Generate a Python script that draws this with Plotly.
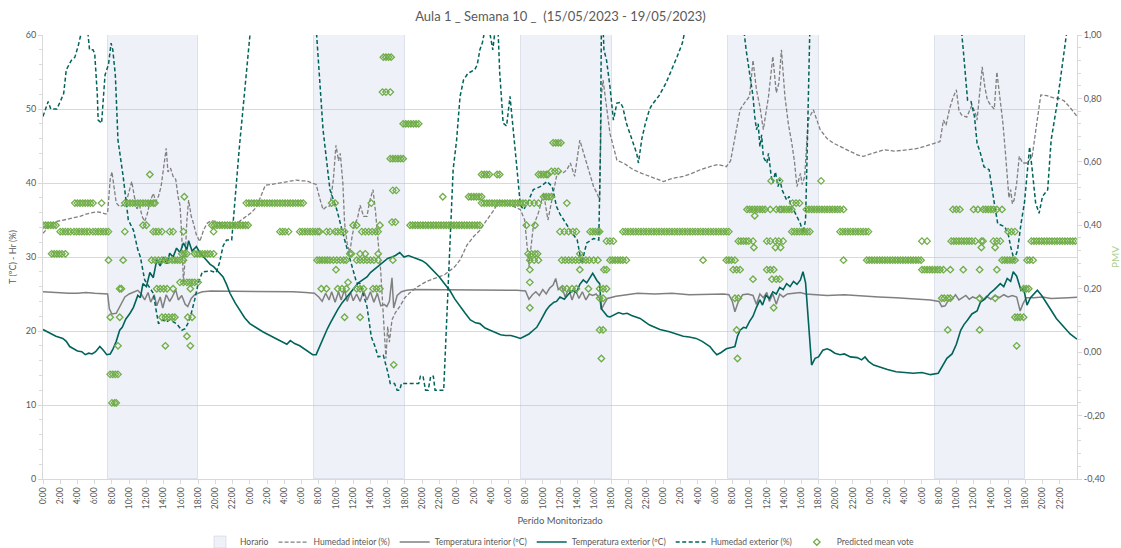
import plotly.graph_objects as go

# ---------------- data (hours since Monday 0:00) ----------------
HOUR_LABELS = ["0:00", "2:00", "4:00", "6:00", "8:00", "10:00", "12:00",
               "14:00", "16:00", "18:00", "20:00", "22:00"]
N_DAYS = 5

horario_start = [7.5, 31.5, 55.5, 79.5, 103.5]
horario_end = [18.0, 42.0, 66.0, 90.0, 114.0]
horario_top = 60

# Temperatura exterior (ºC)
te_points = [
    (0, 20.2), (0.5, 19.9), (1, 19.6), (1.5, 19.3), (2.3, 19.0), (2.7, 18.6), (3.1, 17.9), (3.6, 17.6),
    (4.0, 17.3), (4.5, 17.2), (4.9, 16.8), (5.3, 17.0), (5.7, 16.9), (6.1, 17.2), (6.6, 17.9), (7.0, 17.4),
    (7.4, 16.8), (7.8, 16.9), (8.1, 17.5), (8.5, 18.6), (8.9, 20.1), (9.2, 20.5), (9.6, 21.6), (10.1, 22.4),
    (10.5, 23.2), (11.0, 24.8), (11.3, 24.5), (11.6, 26.4), (12.0, 26.0), (12.4, 27.9), (12.8, 27.2),
    (13.2, 29.6), (13.6, 28.8), (14.0, 30.0), (14.4, 29.1), (14.7, 30.5), (15.1, 30.0), (15.5, 31.2),
    (15.9, 30.6), (16.3, 31.9), (16.7, 31.0), (16.9, 32.2), (17.3, 30.8), (17.8, 31.4), (18.2, 30.6),
    (18.8, 29.8), (19.4, 29.0), (19.8, 28.7), (20.4, 28.0), (20.9, 27.3), (21.3, 26.3), (21.7, 25.1),
    (22.3, 23.8), (22.8, 22.8), (23.4, 21.8), (24.0, 21.0), (24.5, 20.6), (25.0, 20.3), (25.5, 19.9),
    (26.0, 19.6), (26.5, 19.3), (27.0, 19.0), (27.5, 18.6), (27.9, 18.4), (28.3, 18.2), (28.7, 18.7),
    (29.2, 18.3), (29.8, 18.0), (30.3, 17.6), (30.8, 17.2), (31.3, 16.8), (31.7, 16.8), (32.1, 17.9),
    (32.5, 18.9), (33.0, 20.3), (33.4, 21.2), (33.7, 21.9), (34.2, 22.9), (34.7, 23.8), (35.2, 24.5),
    (35.6, 25.1), (36.1, 25.8), (36.6, 26.5), (37.1, 26.9), (37.6, 27.3), (38.0, 27.9), (38.5, 28.4),
    (39.0, 28.8), (39.5, 29.4), (40.0, 29.8), (40.5, 30.0), (40.9, 30.2), (41.4, 30.6), (41.9, 30.0),
    (42.4, 30.2), (42.9, 30.0), (43.4, 29.8), (44.0, 29.5), (44.5, 29.1), (45.0, 28.5), (45.5, 28.0),
    (46.0, 27.3), (46.6, 26.4), (47.2, 25.5), (47.8, 24.3), (48.4, 23.3), (49.0, 22.4), (49.6, 21.5),
    (50.2, 21.1), (50.7, 21.0), (51.3, 20.4), (51.9, 20.1), (52.5, 19.8), (53.1, 19.5), (53.7, 19.4),
    (54.3, 19.4), (54.9, 19.2), (55.4, 19.0), (55.9, 19.3), (56.4, 19.6), (56.9, 20.1), (57.3, 20.5),
    (57.8, 21.5), (58.4, 22.8), (58.8, 23.4), (59.3, 23.9), (59.6, 24.0), (60.0, 24.6), (60.5, 24.3),
    (61.0, 25.0), (61.5, 25.5), (61.9, 25.2), (62.3, 26.3), (62.7, 26.9), (63.1, 26.5), (63.5, 27.3),
    (63.8, 27.8), (64.3, 26.8), (64.6, 26.4), (64.8, 23.0), (65.1, 22.6), (65.5, 22.0), (65.8, 21.9),
    (66.3, 22.2), (66.8, 22.5), (67.3, 22.3), (67.8, 22.4), (68.3, 22.1), (68.8, 21.9), (69.3, 21.7),
    (69.9, 21.2), (70.4, 20.8), (71.0, 20.5), (71.6, 20.2), (72.7, 19.9), (73.5, 19.6), (74.3, 19.3),
    (75.0, 19.2), (75.8, 19.0), (76.5, 18.6), (77.0, 18.2), (77.4, 17.9), (77.8, 17.3), (78.2, 16.8),
    (78.7, 17.1), (79.3, 17.6), (80.0, 17.8), (80.3, 17.9), (80.6, 19.3), (80.9, 20.1), (81.3, 20.5),
    (81.6, 20.4), (82.0, 21.3), (82.4, 22.0), (82.8, 23.2), (83.2, 24.2), (83.5, 23.5), (83.9, 24.8),
    (84.3, 24.4), (84.7, 25.3), (85.1, 25.0), (85.5, 25.9), (85.9, 25.6), (86.3, 26.4), (86.7, 26.0),
    (87.1, 26.7), (87.5, 26.3), (87.9, 26.9), (88.2, 28.0), (88.5, 26.5), (89.2, 15.4), (89.6, 16.3),
    (90.0, 16.5), (90.5, 17.4), (91.0, 17.6), (91.4, 17.4), (91.9, 17.0), (92.5, 16.8), (93.0, 16.9),
    (93.7, 16.5), (94.5, 16.4), (95.0, 16.1), (95.4, 16.5), (95.8, 15.9), (96.4, 15.4), (97.1, 15.1),
    (98.0, 14.8), (99.0, 14.5), (100.0, 14.4), (101.0, 14.3), (102.0, 14.4), (103.0, 14.1), (103.9, 14.3),
    (104.5, 15.4), (104.9, 16.3), (105.5, 16.9), (106.0, 18.2), (106.5, 20.1), (106.9, 20.9), (107.3, 21.5),
    (107.8, 22.3), (108.4, 22.7), (108.8, 23.9), (109.3, 24.3), (109.9, 25.1), (110.4, 25.6), (111.1, 26.4),
    (111.5, 26.0), (111.9, 27.1), (112.3, 26.7), (112.6, 28.0), (113.0, 27.4), (113.5, 25.5), (113.8, 25.8),
    (114.2, 23.5), (114.6, 24.5), (115.0, 25.0), (115.4, 25.5), (115.9, 24.8), (116.4, 23.8), (117.0, 22.8),
    (117.6, 21.7), (118.4, 20.6), (119.2, 19.6), (120.0, 18.9),
]

# Temperatura interior (ºC)
ti_points = [
    (0, 25.3), (1.0, 25.2), (2.0, 25.2), (3.0, 25.1), (4.0, 25.1), (5.0, 25.2), (6.0, 25.1), (7.0, 25.0),
    (7.5, 25.0), (7.7, 23.0), (8.0, 22.3), (8.5, 22.4), (9.0, 23.4), (9.5, 24.6), (10.0, 25.0), (10.5, 25.3),
    (11.0, 25.5), (11.4, 25.0), (11.8, 24.2), (12.2, 25.2), (12.5, 23.9), (12.9, 24.9), (13.2, 23.4),
    (13.6, 24.6), (13.9, 23.1), (14.3, 24.9), (14.7, 24.0), (15.0, 24.6), (15.4, 25.6), (15.7, 24.2),
    (16.1, 24.8), (16.5, 23.6), (16.8, 23.3), (17.2, 24.4), (17.6, 24.9), (18.0, 25.1), (18.5, 25.3),
    (19.5, 25.4), (21.0, 25.4), (23.0, 25.4), (25.0, 25.4), (27.0, 25.4), (29.0, 25.3), (30.5, 25.2),
    (31.5, 25.1), (32.0, 24.6), (32.4, 24.0), (32.8, 25.1), (33.2, 24.2), (33.5, 25.3), (33.9, 23.9),
    (34.3, 25.3), (34.6, 24.2), (35.0, 25.6), (35.3, 24.0), (35.7, 25.2), (36.0, 24.1), (36.4, 25.0),
    (36.8, 24.0), (37.2, 25.4), (37.6, 24.2), (38.0, 25.3), (38.4, 23.9), (38.8, 25.1), (39.2, 23.4),
    (39.6, 23.6), (39.9, 23.3), (40.2, 24.0), (40.5, 27.2), (40.7, 23.1), (41.1, 24.8), (41.6, 25.3),
    (42.2, 25.5), (43.0, 25.6), (45.0, 25.6), (47.0, 25.6), (49.0, 25.6), (51.0, 25.6), (53.0, 25.5),
    (55.0, 25.5), (56.0, 25.4), (56.4, 24.3), (56.8, 24.9), (57.2, 25.3), (57.6, 24.8), (58.0, 25.6),
    (58.4, 25.0), (58.8, 25.8), (59.2, 26.2), (59.5, 27.1), (59.8, 25.6), (60.2, 26.0), (60.6, 24.6),
    (61.0, 25.7), (61.4, 24.2), (61.8, 25.5), (62.2, 24.4), (62.6, 25.3), (63.0, 24.2), (63.4, 25.0),
    (63.8, 24.8), (64.2, 25.0), (64.6, 24.4), (64.8, 22.9), (65.1, 23.6), (65.5, 24.4), (66.5, 24.7),
    (67.5, 24.9), (69.0, 25.1), (71.0, 25.0), (73.0, 25.1), (75.0, 24.9), (77.0, 25.0), (79.0, 25.0),
    (79.6, 24.9), (80.0, 24.0), (80.3, 22.6), (80.7, 24.0), (81.2, 24.9), (81.8, 25.0), (82.4, 24.8),
    (82.8, 23.6), (83.2, 25.0), (83.6, 24.5), (84.0, 25.2), (84.3, 24.0), (84.7, 25.0), (85.1, 23.6),
    (85.5, 25.0), (85.9, 24.6), (86.4, 25.0), (87.0, 25.1), (87.9, 25.2), (88.5, 25.0), (89.5, 24.9),
    (91.0, 24.8), (93.0, 24.9), (95.0, 24.7), (97.0, 24.6), (99.0, 24.5), (101.0, 24.4), (103.0, 24.2),
    (104.0, 24.0), (104.3, 23.3), (104.7, 23.4), (105.1, 24.2), (105.5, 24.3), (105.9, 24.9), (106.3, 24.2),
    (106.7, 24.5), (107.1, 24.8), (107.5, 24.3), (107.9, 24.6), (108.3, 24.4), (108.7, 24.8), (109.1, 24.2),
    (109.5, 24.7), (110.0, 24.3), (110.5, 24.8), (111.0, 24.5), (111.5, 24.9), (112.0, 24.6), (112.5, 24.8),
    (113.0, 24.6), (113.4, 22.7), (113.7, 23.6), (114.1, 24.5), (115.0, 24.5), (116.0, 24.6), (117.0, 24.4),
    (118.0, 24.5), (119.0, 24.5), (120.0, 24.55),
]

# Humedad interior (%)
hi_points = [
    (0, 33.2), (0.5, 33.9), (1.0, 34.5), (1.6, 34.8), (2.2, 35.0), (2.8, 35.1), (3.5, 35.3), (4.3, 35.5),
    (5.0, 35.8), (5.6, 36.0), (6.2, 36.1), (6.8, 36.0), (7.3, 35.8), (7.5, 36.0), (7.8, 40.5), (8.0, 41.5),
    (8.3, 39.0), (8.5, 37.3), (8.9, 36.8), (9.3, 37.0), (9.7, 37.6), (10.0, 38.8), (10.3, 40.2), (10.6, 38.2),
    (10.9, 36.5), (11.2, 37.0), (11.5, 35.5), (11.8, 34.8), (12.1, 35.8), (12.4, 37.4), (12.8, 38.6),
    (13.1, 37.5), (13.4, 38.2), (13.7, 39.5), (14.0, 42.2), (14.3, 44.7), (14.5, 41.5), (14.8, 42.0),
    (15.1, 40.9), (15.4, 40.5), (15.7, 38.0), (15.9, 37.0), (16.1, 33.0), (16.3, 26.4), (16.5, 30.0),
    (16.7, 35.0), (16.9, 37.7), (17.2, 35.5), (17.4, 34.8), (17.8, 33.0), (18.2, 32.1), (18.6, 33.5),
    (19.0, 34.5), (19.5, 34.9), (20.1, 34.8), (20.8, 34.3), (21.7, 33.9), (22.5, 34.5), (23.0, 35.0),
    (23.6, 35.5), (24.2, 36.0), (24.8, 36.8), (25.3, 38.3), (25.8, 39.7), (26.5, 39.8), (27.5, 40.0),
    (28.3, 40.2), (29.4, 40.4), (30.0, 40.3), (30.6, 40.3), (31.2, 40.0), (31.7, 39.8), (32.1, 38.0),
    (32.5, 36.4), (32.9, 36.8), (33.3, 36.9), (33.7, 40.5), (34.0, 45.1), (34.3, 43.0), (34.5, 44.0),
    (34.8, 40.0), (35.0, 34.6), (35.3, 31.8), (35.6, 30.6), (35.9, 33.0), (36.2, 34.5), (36.5, 35.2),
    (36.8, 37.0), (37.2, 35.5), (37.6, 35.5), (37.9, 37.5), (38.3, 39.1), (38.6, 36.0), (38.9, 32.5),
    (39.2, 28.0), (39.5, 22.0), (39.8, 16.3), (40.0, 20.6), (40.2, 18.5), (40.5, 21.5), (40.9, 22.5),
    (41.4, 23.3), (42.0, 24.5), (42.5, 25.1), (43.5, 26.0), (44.5, 26.7), (45.3, 27.0), (45.9, 27.3),
    (46.6, 27.6), (47.3, 28.2), (47.8, 28.7), (48.4, 29.6), (49.2, 31.6), (50.0, 32.8), (50.7, 33.6),
    (51.5, 35.0), (52.3, 36.3), (53.0, 37.7), (53.8, 37.3), (54.6, 36.9), (55.4, 36.4), (55.9, 35.0),
    (56.2, 31.4), (56.4, 28.7), (56.6, 31.0), (56.9, 34.1), (57.5, 36.0), (58.1, 38.6), (58.6, 35.0),
    (59.1, 38.0), (59.6, 40.9), (60.0, 41.5), (60.4, 41.4), (60.8, 41.8), (61.2, 42.7), (61.7, 40.9),
    (62.3, 45.8), (62.7, 44.2), (63.1, 42.7), (63.5, 41.0), (63.9, 39.5), (64.3, 38.6), (64.6, 37.7),
    (64.8, 51.7), (65.0, 53.9), (65.4, 50.3), (65.8, 46.7), (66.2, 44.9), (66.6, 43.1), (67.5, 42.6),
    (68.5, 41.8), (69.5, 41.3), (70.4, 40.9), (71.2, 40.6), (72.0, 40.2), (73.0, 40.6), (74.3, 40.9),
    (75.3, 41.3), (76.3, 41.8), (77.4, 42.2), (78.3, 42.5), (79.3, 42.2), (79.8, 43.0), (80.1, 44.9),
    (80.5, 47.5), (80.9, 49.9), (81.4, 50.8), (82.0, 51.7), (82.4, 56.6), (82.8, 52.6), (83.2, 50.3),
    (83.6, 47.2), (83.9, 49.5), (84.2, 51.7), (84.7, 57.1), (85.1, 52.2), (85.4, 53.5), (85.7, 58.0),
    (86.1, 51.7), (86.5, 48.0), (86.9, 45.4), (87.2, 43.0), (87.5, 39.5), (87.9, 41.3), (88.1, 39.8),
    (88.4, 40.9), (88.8, 48.5), (89.4, 49.9), (90.2, 47.2), (91.0, 46.0), (91.7, 45.4), (92.7, 44.8),
    (93.7, 44.2), (94.5, 43.8), (95.2, 43.6), (96.3, 44.0), (97.6, 44.5), (98.8, 44.3), (100.2, 44.5),
    (101.2, 44.6), (102.2, 44.9), (103.2, 45.3), (104.1, 45.6), (104.5, 48.5), (104.8, 47.8), (105.2, 50.0),
    (105.6, 51.5), (106.0, 52.6), (106.3, 49.8), (106.6, 49.2), (107.2, 48.9), (107.8, 50.5), (108.2, 49.5),
    (108.4, 48.5), (108.7, 52.0), (109.0, 55.7), (109.3, 53.0), (109.6, 51.2), (110.0, 50.5), (110.4, 50.0),
    (110.7, 55.0), (111.0, 52.0), (111.4, 48.1), (111.7, 44.0), (111.9, 41.3), (112.1, 38.0), (112.3, 39.1),
    (112.5, 37.2), (112.7, 37.7), (113.0, 40.0), (113.3, 43.6), (113.7, 42.7), (114.2, 42.7), (114.8, 43.6),
    (115.2, 47.0), (115.8, 51.9), (116.5, 51.8), (117.3, 51.5), (118.0, 51.4), (118.5, 51.1), (119.2, 50.2),
    (120.0, 49.0),
]

# Humedad exterior (%)  (values above 60 fall outside the plotted range)
he_points = [
    (0, 49.0), (0.6, 51.0), (0.9, 50.0), (1.6, 50.0), (2.0, 51.0), (2.4, 52.1), (2.7, 55.3), (3.3, 56.6),
    (3.7, 57.0), (4.1, 58.6), (4.5, 60.6), (4.9, 61.0), (5.2, 60.4), (5.4, 58.0), (5.8, 58.0), (6.0, 57.5),
    (6.3, 52.0), (6.4, 48.5), (6.8, 48.1), (7.0, 51.0), (7.2, 54.6), (7.6, 56.0), (7.9, 58.9), (8.1, 58.0),
    (8.4, 54.5), (8.7, 45.8), (9.0, 43.5), (9.3, 40.9), (9.6, 38.0), (9.9, 35.0), (10.5, 33.6), (11.0, 31.0),
    (11.3, 30.0), (11.8, 26.9), (12.3, 26.0), (12.8, 25.1), (13.1, 23.0), (13.4, 21.0), (13.9, 21.5),
    (14.3, 21.2), (14.7, 21.5), (15.1, 21.2), (15.5, 21.0), (16.1, 20.1), (16.5, 20.3), (16.8, 21.0),
    (17.1, 21.9), (17.6, 24.2), (18.0, 26.4), (18.5, 28.0), (19.5, 28.1), (20.1, 27.9), (20.5, 29.3),
    (20.9, 31.5), (21.3, 32.3), (21.9, 32.3), (22.4, 40.0), (22.8, 45.0), (23.2, 49.9), (23.8, 58.0),
    (24.0, 61.0), (24.5, 66.0), (28.0, 70.0), (31.3, 66.0), (31.7, 61.0), (32.1, 53.9), (32.5, 47.2),
    (33.3, 39.1), (34.1, 36.4), (34.8, 33.2), (35.6, 30.0), (36.4, 26.5), (36.8, 26.4), (37.6, 23.3),
    (38.1, 19.2), (38.5, 18.0), (38.9, 16.5), (39.5, 16.7), (40.0, 14.5), (40.3, 12.9), (40.8, 12.9),
    (41.1, 12.0), (41.4, 12.0), (41.6, 12.9), (43.6, 12.9), (43.8, 13.9), (44.1, 13.9), (44.4, 12.0),
    (44.7, 12.0), (45.0, 13.9), (45.3, 13.9), (45.5, 12.0), (46.5, 12.0), (46.9, 23.3), (47.2, 32.3),
    (47.6, 41.8), (48.0, 45.8), (48.4, 51.7), (48.8, 53.9), (49.3, 54.8), (49.6, 55.0), (50.1, 55.3),
    (50.4, 56.0), (50.7, 58.0), (51.0, 59.0), (51.3, 60.8), (51.6, 61.0), (51.9, 60.0), (52.2, 58.0),
    (52.5, 61.0), (52.8, 61.0), (53.0, 55.0), (53.4, 48.1), (53.8, 47.7), (54.2, 51.7), (54.6, 47.2),
    (55.0, 42.0), (55.4, 37.0), (55.8, 36.4), (56.3, 37.5), (56.9, 39.1), (57.7, 39.5), (58.5, 40.2),
    (59.1, 39.5), (59.6, 36.8), (60.0, 35.8), (60.4, 35.0), (61.2, 33.6), (62.0, 32.3), (62.5, 29.1),
    (62.8, 30.5), (63.1, 31.9), (63.9, 32.5), (64.5, 32.3), (64.7, 45.0), (64.8, 61.0), (65.0, 61.0),
    (65.1, 58.0), (65.4, 56.6), (65.8, 53.0), (66.2, 48.5), (66.6, 50.8), (67.0, 50.9), (67.3, 50.2),
    (67.7, 48.1), (68.1, 46.8), (68.5, 45.5), (68.9, 44.0), (69.1, 42.7), (69.5, 46.0), (69.9, 48.0),
    (70.4, 50.0), (70.7, 50.6), (71.5, 51.8), (72.3, 53.5), (72.8, 54.8), (73.6, 57.1), (74.2, 58.9),
    (74.5, 60.6), (75.0, 62.0), (78.0, 66.0), (81.0, 62.0), (81.3, 61.0), (81.6, 58.0), (82.0, 54.8),
    (82.4, 51.7), (82.6, 49.0), (82.8, 47.2), (83.0, 48.0), (83.2, 44.9), (83.4, 46.5), (83.6, 43.5),
    (84.0, 42.7), (84.2, 44.0), (84.5, 41.0), (84.7, 40.0), (85.0, 41.5), (85.3, 39.5), (85.5, 40.5),
    (85.8, 39.0), (86.0, 38.5), (86.3, 37.7), (86.6, 38.2), (86.8, 36.5), (87.1, 36.4), (87.5, 35.5),
    (87.9, 34.5), (88.2, 33.2), (88.5, 35.0), (88.7, 45.0), (88.8, 51.7), (89.0, 61.0), (90.0, 66.0),
    (98.0, 72.0), (106.0, 64.0), (106.6, 60.5), (106.8, 58.0), (107.3, 51.2), (107.7, 51.0), (108.1, 49.0),
    (108.4, 45.4), (108.8, 44.0), (109.2, 42.2), (109.8, 41.8), (110.4, 37.3), (110.8, 34.5), (111.6, 34.1),
    (112.0, 33.2), (112.3, 31.4), (112.7, 29.6), (113.1, 30.9), (113.5, 34.5), (113.9, 37.3), (114.3, 42.2),
    (114.5, 44.9), (114.8, 41.8), (115.2, 37.3), (115.6, 35.9), (116.0, 38.2), (116.6, 39.1), (117.0, 45.8),
    (117.7, 50.8), (118.3, 56.2), (118.8, 60.3), (119.2, 61.5), (120.0, 63.0),
]

# Predicted mean vote: PMV level -> hours at which that value was recorded
PMV_BY_LEVEL = {
    0.93: [39.5, 39.8, 40.1, 40.4],
    0.82: [39.4, 39.8, 40.3],
    0.72: [41.8, 42.1, 42.4, 42.7, 43.0, 43.3, 43.6],
    0.66: [59.2, 59.5, 59.8, 60.1],
    0.61: [40.3, 40.6, 40.9, 41.2, 41.5, 41.8],
    0.57: [59.0, 59.4, 59.8],
    0.56: [12.4, 50.9, 51.2, 51.5, 51.8, 52.7, 53.0, 57.5, 57.8, 58.1, 58.4, 58.6],
    0.54: [84.5, 85.5, 90.3],
    0.51: [40.6, 41.0],
    0.49: [16.4, 46.4, 49.4, 49.7, 50.0, 50.3, 50.6, 50.9, 58.1, 58.4, 58.7, 59.0],
    0.47: [3.7, 4.0, 4.3, 4.6, 4.9, 5.2, 5.5, 5.8, 6.8,
           9.5, 9.8, 10.1, 10.4, 10.7, 11.0, 11.3, 11.6, 11.9, 12.2, 12.5, 12.8, 13.0,
           23.6, 23.9, 24.2, 24.5, 24.8, 25.1, 25.4, 25.7, 26.0, 26.3, 26.6, 26.9, 27.2, 27.5, 27.8,
           28.1, 28.4, 28.7, 29.0, 29.3, 29.6, 29.9, 30.2, 33.5, 33.9, 38.1,
           50.9, 51.2, 51.5, 51.8, 52.1, 52.4, 52.7, 53.0, 53.3, 53.6, 53.9, 54.2, 54.5, 54.8, 55.1,
           55.4, 55.7, 56.0, 56.5, 57.0, 57.5, 60.8, 87.0, 87.4, 87.8],
    0.45: [81.7, 82.0, 82.3, 82.6, 82.9, 83.2, 83.5, 83.8, 84.4, 85.1, 85.5, 85.7, 86.0, 86.3, 86.6, 86.9,
           88.6, 88.9, 89.2, 89.5, 89.8, 90.1, 90.4, 90.7, 91.0, 91.3, 91.6, 91.9, 92.2, 92.5, 92.9,
           105.6, 106.0, 106.4, 108.0, 108.5, 109.1, 109.4, 109.7, 110.0, 110.3, 110.7, 111.3],
    0.43: [82.6],
    0.41: [40.5, 40.9],
    0.40: [0.0, 0.3, 0.6, 0.9, 1.2, 1.5, 11.6, 12.0,
           19.6, 19.9, 20.2, 20.5, 20.8, 21.1, 21.4, 21.7, 22.0, 22.3, 22.6, 22.9, 23.2, 23.5, 23.8,
           36.0, 36.4, 39.1,
           42.6, 42.9, 43.2, 43.5, 43.8, 44.1, 44.4, 44.7, 45.0, 45.3, 45.6, 45.9, 46.2, 46.5, 46.8,
           47.1, 47.4, 47.7, 48.0, 48.3, 48.6, 48.9, 49.2, 49.5, 49.8, 50.1, 50.4, 50.7, 56.1, 57.1],
    0.38: [2.0, 2.3, 2.6, 2.9, 3.2, 3.6, 3.9, 4.2, 4.5, 4.8, 5.1, 5.4, 5.8, 6.1, 6.4, 6.7, 7.0, 7.3, 7.6,
           9.5, 12.8, 13.1, 13.4, 13.8, 14.7, 15.1, 16.3, 19.8,
           27.5, 27.8, 28.1, 28.5, 29.8, 30.1, 30.4, 30.7, 31.0, 31.3, 31.6, 31.9, 32.1, 32.9, 33.3,
           33.9, 34.2, 34.6, 35.0, 37.0, 37.4, 37.8, 38.2, 38.6, 38.9,
           60.0, 60.5, 61.0, 61.5, 61.9, 63.5, 63.8, 64.1, 64.4, 64.6,
           67.3, 67.6, 67.9, 68.2, 68.5, 68.8, 69.1, 69.4, 69.7, 70.0, 70.3, 70.6, 70.9, 71.2, 71.5,
           71.8, 72.1, 72.4, 72.7, 73.0, 73.3, 73.6, 73.9, 74.2, 74.5, 74.8, 75.1, 75.4, 75.7, 76.0,
           76.3, 76.6, 76.9, 77.2, 77.5, 77.8, 78.1, 78.4, 78.7, 79.0, 79.3, 79.6,
           86.9, 87.2, 87.5, 87.8, 88.1, 88.4, 88.7, 89.0,
           92.5, 92.8, 93.1, 93.4, 93.7, 94.0, 94.3, 94.6, 94.9, 95.2, 95.5, 95.8, 112.0, 112.4, 112.8],
    0.35: [65.4, 65.8, 66.2, 80.7, 81.0, 81.3, 81.6, 81.9, 82.4, 84.0, 84.4, 85.0, 85.4, 85.9,
           102.0, 102.6, 105.4, 105.7, 106.0, 106.3, 106.6, 106.9, 107.2, 107.5, 107.8, 108.2,
           108.9, 109.1, 110.3, 110.7, 111.1,
           114.7, 115.0, 115.3, 115.6, 115.9, 116.2, 116.5, 116.8, 117.1, 117.4, 117.7, 118.0, 118.3,
           118.6, 118.9, 119.2, 119.5, 119.8],
    0.33: [82.5, 85.0, 85.6, 108.9, 110.5],
    0.31: [1.0, 1.3, 1.6, 1.9, 2.2, 2.6, 16.1, 16.4, 16.7,
           17.6, 17.9, 18.2, 18.5, 18.8, 19.1, 19.4, 19.8, 35.6, 35.8, 36.8, 37.4, 38.9,
           56.3, 56.7, 57.1, 57.4, 62.3],
    0.29: [7.6, 9.3, 12.6, 13.0, 13.4, 13.8, 14.2, 14.6, 15.0, 15.3, 15.6, 15.9, 16.3,
           31.8, 32.1, 32.4, 32.7, 33.0, 33.3, 33.7, 34.1, 34.5, 34.9, 35.2,
           36.4, 36.8, 37.2, 37.6, 38.0, 38.4, 38.9, 40.6, 56.5, 57.0, 57.5,
           60.2, 60.6, 61.0, 61.4, 61.8, 62.2, 62.6, 63.0, 63.4, 63.9, 64.4,
           65.8, 66.1, 66.4, 66.7, 67.0, 67.3, 67.7, 76.6, 79.3, 79.6, 79.9, 80.3, 92.9,
           95.6, 95.9, 96.2, 96.5, 96.8, 97.1, 97.4, 97.7, 98.0, 98.3, 98.6, 98.9, 99.2, 99.5, 99.8,
           100.1, 100.4, 100.7, 101.0, 101.3, 101.6, 101.9,
           111.3, 111.6, 111.9, 112.2, 112.5, 112.8, 114.2, 114.5, 114.9],
    0.26: [34.0, 56.5, 62.3, 65.1, 65.4, 80.1, 80.5, 80.9, 84.0, 84.4, 84.8,
           102.0, 102.3, 102.6, 102.9, 103.2, 103.5, 103.8, 104.1, 104.5, 105.3, 106.8, 108.7, 110.7],
    0.23: [82.4, 84.6, 85.1, 85.5],
    0.22: [15.9, 16.3, 16.7, 17.0, 17.3, 17.6, 18.0, 35.4, 56.5],
    0.20: [8.9, 9.1, 13.2, 13.6, 14.0, 14.4, 15.1, 17.1, 32.3, 32.9, 34.2, 34.7, 35.2,
           36.4, 36.8, 37.2, 38.3, 38.7, 39.1, 60.3, 60.8, 61.4, 61.9, 63.3, 64.6, 65.0, 65.4,
           113.8, 114.1, 114.4],
    0.17: [64.6, 65.0, 80.3, 80.7, 104.3, 104.6, 105.0, 105.3, 108.7, 110.5],
    0.14: [56.5, 84.8],
    0.11: [7.8, 8.9, 13.8, 14.2, 14.6, 15.0, 15.3, 16.8, 17.3, 35.0, 36.8, 112.8, 113.1, 113.4, 113.8],
    0.07: [64.6, 65.0, 80.5, 105.0, 108.7],
    0.05: [16.7],
    0.02: [8.7, 14.2, 17.1, 113.0],
    -0.02: [64.8, 80.6],
    -0.04: [40.7],
    -0.07: [7.8, 8.1, 8.4, 8.7],
    -0.16: [8.0, 8.3, 8.5],
}

PMV_TICKS = [-0.4, -0.2, 0.0, 0.2, 0.4, 0.6, 0.8, 1.0]

# ---------------- build ----------------
FONT = "Lato, 'Open Sans', Arial, sans-serif"
GREY_TXT = "#595959"
AXIS_C = "#D9D9D9"
TEAL = "#00645A"
GREY_LINE = "#808080"
GREEN = "#70AD47"


def unzip(points):
    return [p[0] for p in points], [p[1] for p in points]


pmv_hour, pmv_value = [], []
for level, hours in PMV_BY_LEVEL.items():
    pmv_hour.extend(hours)
    pmv_value.extend([level] * len(hours))

fig = go.Figure()

fig.add_trace(go.Bar(
    x=[(s + e) / 2 for s, e in zip(horario_start, horario_end)],
    y=[horario_top] * len(horario_start),
    width=[e - s for s, e in zip(horario_start, horario_end)],
    marker=dict(color="rgba(187,199,227,0.25)",
                line=dict(color="rgba(190,198,215,0.45)", width=1)),
    name="Horario", hoverinfo="skip",
))

x, y = unzip(hi_points)
fig.add_trace(go.Scatter(x=x, y=y, mode="lines", name="Humedad inteior (%)",
                         line=dict(color=GREY_LINE, width=1.3, dash="4px,2px")))
x, y = unzip(ti_points)
fig.add_trace(go.Scatter(x=x, y=y, mode="lines", name="Temperatura interior (ºC)",
                         line=dict(color=GREY_LINE, width=1.5)))
x, y = unzip(te_points)
fig.add_trace(go.Scatter(x=x, y=y, mode="lines", name="Temperatura exterior (ºC)",
                         line=dict(color=TEAL, width=1.6)))
x, y = unzip(he_points)
fig.add_trace(go.Scatter(x=x, y=y, mode="lines", name="Humedad exterior (%)",
                         line=dict(color=TEAL, width=1.5, dash="4px,2.5px")))
fig.add_trace(go.Scatter(x=pmv_hour, y=pmv_value, mode="markers", name="Predicted mean vote",
                         yaxis="y2",
                         marker=dict(symbol="diamond-open", size=5, color=GREEN,
                                     line=dict(color=GREEN, width=1.3))))

tickvals = list(range(0, 24 * N_DAYS, 2))
ticktext = HOUR_LABELS * N_DAYS

fig.update_layout(
    width=1121, height=548,
    margin=dict(l=43, r=44, t=35, b=69, autoexpand=False),
    paper_bgcolor="white", plot_bgcolor="white",
    font=dict(family=FONT, size=9, color=GREY_TXT),
    title=dict(text="Aula 1 _ Semana 10 _  (15/05/2023 - 19/05/2023)",
               x=0.5, xanchor="center", y=1 - 16 / 548, yanchor="middle",
               font=dict(family=FONT, size=13, color=GREY_TXT)),
    showlegend=True,
    legend=dict(orientation="h", x=0.5, xanchor="center", y=-0.142, yanchor="middle",
                font=dict(family=FONT, size=8.5, color=GREY_TXT), itemwidth=30,
                bgcolor="rgba(0,0,0,0)"),
    bargap=0,
    xaxis=dict(range=[0, 24 * N_DAYS], tickmode="array", tickvals=tickvals, ticktext=ticktext,
               tickangle=-90, tickfont=dict(size=8.5, color=GREY_TXT), automargin=False,
               showline=True, linecolor=AXIS_C, linewidth=1, mirror=False,
               ticks="outside", ticklen=4, tickcolor=AXIS_C,
               showgrid=False, zeroline=False,
               title=dict(text="Perído Monitorizado", font=dict(size=9.5, color=GREY_TXT),
                          standoff=9)),
    yaxis=dict(range=[0, 60], dtick=10, tick0=0, automargin=False,
               showgrid=True, gridcolor=AXIS_C, gridwidth=1,
               showline=True, linecolor=AXIS_C, linewidth=1,
               ticks="outside", ticklen=4, tickcolor=AXIS_C,
               minor=dict(ticks="outside", dtick=2, ticklen=3, tickcolor=AXIS_C, showgrid=False),
               zeroline=False, tickfont=dict(size=9, color=GREY_TXT),
               title=dict(text="T (ºC) - Hr (%)", font=dict(size=9, color=GREY_TXT), standoff=7)),
    yaxis2=dict(range=[-0.4, 1.0], overlaying="y", side="right", automargin=False,
                tickmode="array", tickvals=PMV_TICKS,
                ticktext=[f"{v:.2f}".replace(".", ",") for v in PMV_TICKS],
                showgrid=False, zeroline=False,
                showline=True, linecolor=AXIS_C, linewidth=1,
                ticks="outside", ticklen=4, tickcolor=AXIS_C,
                minor=dict(ticks="outside", dtick=0.04, ticklen=3, tickcolor=AXIS_C, showgrid=False),
                tickfont=dict(size=9, color=GREY_TXT),
                title=dict(text="PMV", font=dict(size=10, color="#A9D18E"), standoff=8)),
)

fig.write_html(
    "out.html",
    config={"displayModeBar": False},
    post_script="document.body.style.margin='0';document.body.style.overflow='hidden';",
)
